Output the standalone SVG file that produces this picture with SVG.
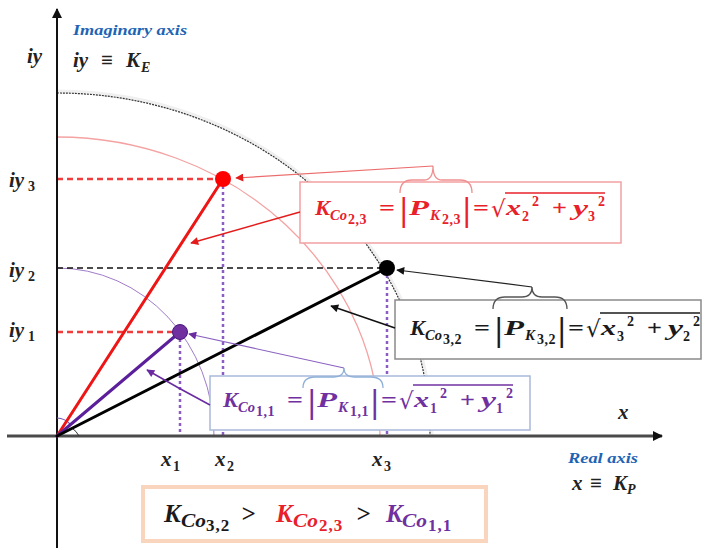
<svg xmlns="http://www.w3.org/2000/svg" width="706" height="548" viewBox="0 0 706 548">
<defs>
<style>
.m{font-family:"Liberation Serif","DejaVu Serif",serif;font-weight:bold;font-style:italic;font-size:22px}
.op{font-family:"Liberation Serif","DejaVu Serif",serif;font-weight:bold;font-size:22px}
.s{font-family:"Liberation Serif","DejaVu Serif",serif;font-weight:bold;font-style:italic;font-size:15px}
.ss{font-family:"Liberation Serif","DejaVu Serif",serif;font-weight:bold;font-size:14px;letter-spacing:0.5px}
.sup{font-family:"Liberation Serif","DejaVu Serif",serif;font-weight:bold;font-size:14px}
.bar{font-family:"Liberation Serif","DejaVu Serif",serif;font-weight:bold;font-size:34px}
.rad{font-family:"DejaVu Serif",serif;font-size:23px}
.lab{font-family:"Liberation Serif","DejaVu Serif",serif;font-weight:bold;font-style:italic;font-size:21px;fill:#222}
.labs{font-family:"Liberation Serif","DejaVu Serif",serif;font-weight:bold;font-size:14px;fill:#222}
.ax{font-family:"Liberation Serif","DejaVu Serif",serif;font-weight:bold;font-style:italic;font-size:15px;fill:#1e64b4}
.big{font-family:"Liberation Serif","DejaVu Serif",serif;font-weight:bold;font-style:italic;font-size:25px}
.bigs{font-family:"Liberation Serif","DejaVu Serif",serif;font-weight:bold;font-style:italic;font-size:19px}
.bigss{font-family:"Liberation Serif","DejaVu Serif",serif;font-weight:bold;font-size:17px;letter-spacing:1px}
.red{fill:#e8202a}
.blk{fill:#1a1a1a}
.pur{fill:#7030a0}
</style>
<marker id="ah-red" viewBox="0 0 10 10" refX="9" refY="5" markerWidth="11" markerHeight="8" markerUnits="userSpaceOnUse" orient="auto"><path d="M0,0 L10,5 L0,10 z" fill="#e31b1b"/></marker>
<marker id="ah-blk" viewBox="0 0 10 10" refX="9" refY="5" markerWidth="11" markerHeight="8" markerUnits="userSpaceOnUse" orient="auto"><path d="M0,0 L10,5 L0,10 z" fill="#111"/></marker>
<marker id="ah-pur" viewBox="0 0 10 10" refX="9" refY="5" markerWidth="11" markerHeight="8" markerUnits="userSpaceOnUse" orient="auto"><path d="M0,0 L10,5 L0,10 z" fill="#6a2aa0"/></marker>
<marker id="ah-ax" viewBox="0 0 10 10" refX="9" refY="5" markerWidth="12" markerHeight="10" markerUnits="userSpaceOnUse" orient="auto"><path d="M0,0 L10,5 L0,10 z" fill="#111"/></marker>
</defs>
<rect width="706" height="548" fill="#fff"/>

<g id="arcs" fill="none">
<path d="M57,91 A375,345 0 0 1 432,436" stroke="#f0f0f0" stroke-width="3"/>
<path d="M57,93 A373,343 0 0 1 430,436" stroke="#333" stroke-width="1.2" stroke-dasharray="2 1"/>
<path d="M57,137 A323,299 0 0 1 380,436" stroke="#f4a2a2" stroke-width="1.3"/>
<path d="M57,268 A157,168 0 0 1 214,436" stroke="#a07cc8" stroke-width="1"/>
</g>

<g id="guides" fill="none">
<line x1="57" y1="179" x2="216" y2="179" stroke="#f03c3c" stroke-width="2.5" stroke-dasharray="6 4"/>
<line x1="57" y1="268" x2="380" y2="268" stroke="#111" stroke-width="1.5" stroke-dasharray="6 4"/>
<line x1="57" y1="332" x2="173" y2="332" stroke="#f03c3c" stroke-width="2.5" stroke-dasharray="6 4"/>
<line x1="180" y1="339" x2="180" y2="436" stroke="#8a5cc4" stroke-width="2.5" stroke-dasharray="3 3"/>
<line x1="223" y1="186" x2="223" y2="436" stroke="#8a5cc4" stroke-width="2.5" stroke-dasharray="3 3"/>
<line x1="387" y1="275" x2="387" y2="436" stroke="#8a5cc4" stroke-width="2.5" stroke-dasharray="3 3"/>
</g>

<g id="axes">
<line x1="7" y1="436" x2="662" y2="436" stroke="#4a4a4a" stroke-width="3" marker-end="url(#ah-ax)"/>
<line x1="57" y1="548" x2="57" y2="9" stroke="#111" stroke-width="2" marker-end="url(#ah-ax)"/>
<path d="M57,418 A18,18 0 0 1 70,424" fill="none" stroke="#7a50b0" stroke-width="1.2"/>
<path d="M72,428 A22,22 0 0 1 79,436" fill="none" stroke="#333" stroke-width="1"/>
</g>

<g id="vectors" stroke-width="3" stroke-linecap="round">
<line x1="57" y1="436" x2="223" y2="179" stroke="#ee1515"/>
<line x1="57" y1="436" x2="180" y2="332" stroke="#5b1f9b"/>
<line x1="57" y1="436" x2="387" y2="268" stroke="#000"/>
</g>

<g id="node-red-formula">
<rect x="300" y="182" width="321" height="61" fill="#fff" stroke="#f2a0a0" stroke-width="1.5"/>
<g class="red" transform="translate(315,215)">
<text class="m" x="0" y="0" textLength="15" lengthAdjust="spacingAndGlyphs">K</text>
<text class="s" x="15" y="5" textLength="17" lengthAdjust="spacingAndGlyphs">Co</text>
<text class="ss" x="33" y="9">2,3</text>
<text class="op" x="64" y="0" textLength="16" lengthAdjust="spacingAndGlyphs">=</text>
<text class="bar" x="85" y="6">|</text>
<text class="m" x="94" y="0" textLength="20" lengthAdjust="spacingAndGlyphs">P</text>
<text class="s" x="115" y="5">K</text>
<text class="ss" x="127" y="9">2,3</text>
<text class="bar" x="148" y="6">|</text>
<text class="op" x="158" y="0" textLength="16" lengthAdjust="spacingAndGlyphs">=</text>
<text class="rad" x="176" y="2">√</text>
<line x1="190" y1="-22" x2="290" y2="-22" stroke="#e8202a" stroke-width="1.4"/>
<text class="m" x="191" y="0" textLength="15" lengthAdjust="spacingAndGlyphs">x</text>
<text class="ss" x="207" y="6">2</text>
<text class="sup" x="217" y="-9">2</text>
<text class="op" x="237" y="0" textLength="15" lengthAdjust="spacingAndGlyphs">+</text>
<text class="m" x="258" y="0" textLength="15" lengthAdjust="spacingAndGlyphs">y</text>
<text class="ss" x="273" y="6">3</text>
<text class="sup" x="283" y="-9">2</text>
</g>
<path d="M400,193 Q400,180 412,180 L424,180 Q433,180 433,166 Q433,180 442,180 L460,180 Q472,180 472,193" fill="none" stroke="#f09090" stroke-width="1.3"/>
</g>

<g id="node-black-formula">
<rect x="395" y="300" width="306" height="59" fill="#fff" stroke="#8a8a8a" stroke-width="1.5"/>
<g class="blk" transform="translate(410,335)">
<text class="m" x="0" y="0" textLength="15" lengthAdjust="spacingAndGlyphs">K</text>
<text class="s" x="15" y="5" textLength="17" lengthAdjust="spacingAndGlyphs">Co</text>
<text class="ss" x="33" y="9">3,2</text>
<text class="op" x="64" y="0" textLength="16" lengthAdjust="spacingAndGlyphs">=</text>
<text class="bar" x="85" y="6">|</text>
<text class="m" x="94" y="0" textLength="20" lengthAdjust="spacingAndGlyphs">P</text>
<text class="s" x="115" y="5">K</text>
<text class="ss" x="127" y="9">3,2</text>
<text class="bar" x="148" y="6">|</text>
<text class="op" x="158" y="0" textLength="16" lengthAdjust="spacingAndGlyphs">=</text>
<text class="rad" x="176" y="2">√</text>
<line x1="190" y1="-22" x2="290" y2="-22" stroke="#1a1a1a" stroke-width="1.4"/>
<text class="m" x="191" y="0" textLength="15" lengthAdjust="spacingAndGlyphs">x</text>
<text class="ss" x="207" y="6">3</text>
<text class="sup" x="217" y="-9">2</text>
<text class="op" x="237" y="0" textLength="15" lengthAdjust="spacingAndGlyphs">+</text>
<text class="m" x="258" y="0" textLength="15" lengthAdjust="spacingAndGlyphs">y</text>
<text class="ss" x="273" y="6">2</text>
<text class="sup" x="283" y="-9">2</text>
</g>
<path d="M493,309 Q493,297 505,297 L522,297 Q532,297 532,287 Q532,297 542,297 L555,297 Q567,297 567,309" fill="none" stroke="#555" stroke-width="1.3"/>
</g>

<g id="node-purple-formula">
<rect x="210" y="376" width="320" height="54" fill="#fff" stroke="#a9b9da" stroke-width="1.5"/>
<g class="pur" transform="translate(223,407)">
<text class="m" x="0" y="0" textLength="15" lengthAdjust="spacingAndGlyphs">K</text>
<text class="s" x="15" y="5" textLength="17" lengthAdjust="spacingAndGlyphs">Co</text>
<text class="ss" x="33" y="9">1,1</text>
<text class="op" x="64" y="0" textLength="16" lengthAdjust="spacingAndGlyphs">=</text>
<text class="bar" x="85" y="6">|</text>
<text class="m" x="94" y="0" textLength="20" lengthAdjust="spacingAndGlyphs">P</text>
<text class="s" x="115" y="5">K</text>
<text class="ss" x="127" y="9">1,1</text>
<text class="bar" x="148" y="6">|</text>
<text class="op" x="158" y="0" textLength="16" lengthAdjust="spacingAndGlyphs">=</text>
<text class="rad" x="176" y="2">√</text>
<line x1="190" y1="-22" x2="290" y2="-22" stroke="#7030a0" stroke-width="1.4"/>
<text class="m" x="191" y="0" textLength="15" lengthAdjust="spacingAndGlyphs">x</text>
<text class="ss" x="207" y="6">1</text>
<text class="sup" x="217" y="-9">2</text>
<text class="op" x="237" y="0" textLength="15" lengthAdjust="spacingAndGlyphs">+</text>
<text class="m" x="258" y="0" textLength="15" lengthAdjust="spacingAndGlyphs">y</text>
<text class="ss" x="273" y="6">1</text>
<text class="sup" x="283" y="-9">2</text>
</g>
<path d="M303,388 Q303,377 315,377 L334,377 Q344,377 344,368 Q344,377 354,377 L371,377 Q383,377 383,388" fill="none" stroke="#8fb0d8" stroke-width="1.3"/>
</g>

<g id="connectors" fill="none">
<line x1="433" y1="166" x2="236" y2="178" stroke="#ec6c6c" stroke-width="1.2" marker-end="url(#ah-red)"/>
<line x1="300" y1="212" x2="191" y2="243" stroke="#e31b1b" stroke-width="1.5" marker-end="url(#ah-red)"/>
<line x1="532" y1="287" x2="397" y2="270" stroke="#222" stroke-width="1.2" marker-end="url(#ah-blk)"/>
<line x1="395" y1="328" x2="331" y2="306" stroke="#111" stroke-width="1.5" marker-end="url(#ah-blk)"/>
<line x1="344" y1="368" x2="189" y2="334" stroke="#8a60c0" stroke-width="1.2" marker-end="url(#ah-pur)"/>
<path d="M210,405 Q178,388 147,370" stroke="#6a2aa0" stroke-width="1.5" marker-end="url(#ah-pur)"/>
</g>

<g id="points">
<circle id="point-red" cx="223" cy="179" r="8" fill="#ff0000"/>
<circle id="point-black" cx="387" cy="268" r="8" fill="#000"/>
<circle id="point-purple" cx="180" cy="332" r="7.5" fill="#7030a0" stroke="#4a1880" stroke-width="1"/>
</g>

<g id="labels">
<text class="lab" x="27" y="63">iy</text>
<text class="ax" x="73" y="35" textLength="114" lengthAdjust="spacingAndGlyphs">Imaginary axis</text>
<text class="lab" x="73" y="67">iy</text>
<text class="lab" x="101" y="67">≡</text>
<text class="lab" x="126" y="67">K</text>
<text class="labs" x="141" y="72" font-style="italic">E</text>
<text class="lab" x="9" y="187">iy</text><text class="labs" x="28" y="191">3</text>
<text class="lab" x="9" y="277">iy</text><text class="labs" x="28" y="281">2</text>
<text class="lab" x="9" y="337">iy</text><text class="labs" x="28" y="341">1</text>
<text class="lab" x="161" y="466">x</text><text class="labs" x="173" y="471">1</text>
<text class="lab" x="215" y="466">x</text><text class="labs" x="227" y="471">2</text>
<text class="lab" x="372" y="466">x</text><text class="labs" x="384" y="471">3</text>
<text class="lab" x="618" y="419" font-size="19">x</text>
<text class="ax" x="568" y="463" textLength="70" lengthAdjust="spacingAndGlyphs">Real axis</text>
<text class="lab" x="572" y="490" font-size="18">x</text>
<text class="lab" x="590" y="490" font-size="18">≡</text>
<text class="lab" x="613" y="490" font-size="18">K</text>
<text class="labs" x="627" y="494" font-style="italic" font-size="11">P</text>
</g>

<g id="node-comparison">
<rect x="143" y="487" width="343" height="54" fill="#fff" stroke="#f9d5bd" stroke-width="4"/>
<text class="big blk" x="164" y="522">K</text>
<text class="bigs blk" x="181" y="527" textLength="25" lengthAdjust="spacingAndGlyphs">Co</text>
<text class="bigss blk" x="206" y="531">3,2</text>
<text class="big blk" x="241" y="522">&gt;</text>
<text class="big red" x="276" y="522">K</text>
<text class="bigs red" x="293" y="527" textLength="25" lengthAdjust="spacingAndGlyphs">Co</text>
<text class="bigss red" x="319" y="531">2,3</text>
<text class="big blk" x="356" y="522">&gt;</text>
<text class="big pur" x="386" y="522">K</text>
<text class="bigs pur" x="402" y="527" textLength="25" lengthAdjust="spacingAndGlyphs">Co</text>
<text class="bigss pur" x="428" y="531">1,1</text>
</g>
</svg>
